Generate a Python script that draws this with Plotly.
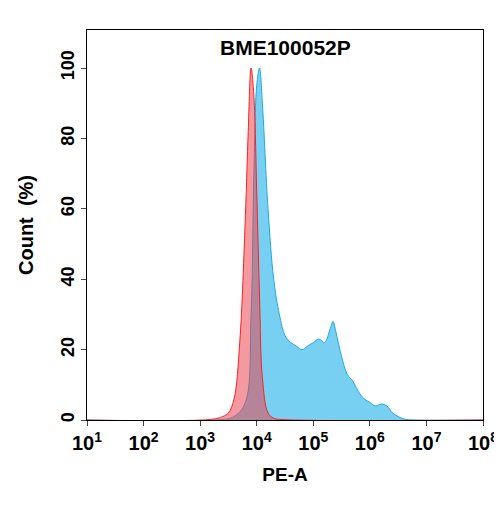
import plotly.graph_objects as go

blue_logx = [1,3.3,3.6,3.8,3.9,3.95,4.0,4.05,4.1,4.2,4.3,4.4,4.5,4.6,4.7,4.8,4.9,5.0,5.1,5.2,5.3,5.35,5.4,5.5,5.6,5.7,5.8,5.9,6.0,6.1,6.2,6.3,6.4,6.5,6.6,6.8,8]
blue_y = [0,0,1,5,30,70,95,100,90,60,40,30,24,22,21,20,21,22,23,22,26,28,25,18,13,11,8,6,5,4,4.5,4,2,1,0.3,0,0]
red_logx = [1,3.2,3.4,3.5,3.6,3.7,3.8,3.85,3.9,3.95,4.0,4.05,4.1,4.2,4.3,4.5,8]
red_y = [0,0.2,1,2,6,22,58,82,100,92,65,35,12,2,0.5,0.1,0]
xticks = [1,2,3,4,5,6,7,8]
yticks = [0,20,40,60,80,100]

fig = go.Figure()
fig.add_trace(go.Scatter(x=[10**v for v in blue_logx], y=blue_y, mode="lines", fill="tozeroy",
    line=dict(color="#1ca9e0", width=1, shape="spline"), fillcolor="rgba(95,200,240,0.85)"))
fig.add_trace(go.Scatter(x=[10**v for v in red_logx], y=red_y, mode="lines", fill="tozeroy",
    line=dict(color="#ff2020", width=1, shape="spline"), fillcolor="rgba(235,70,80,0.55)"))
fig.update_layout(width=502, height=505, showlegend=False, plot_bgcolor="white", paper_bgcolor="white",
    margin=dict(l=79, r=22, t=22, b=93),
    font=dict(family="Liberation Sans, Arial", color="black"),
    annotations=[dict(text="<b>BME100052P</b>", x=0.5, y=0.99, xref="paper", yref="paper",
                      xanchor="center", yanchor="top", showarrow=False, font=dict(size=21))])
fig.update_xaxes(type="log", range=[1,8], tickvals=[10**v for v in xticks],
    ticktext=[f"<b>10<sup>{v}</sup></b>" for v in xticks], tickfont=dict(size=20),
    showline=True, mirror=True, linecolor="black", linewidth=1, ticks="outside", ticklen=5,
    showgrid=False, title=dict(text="<b>PE-A</b>", font=dict(size=19), standoff=14))
fig.update_yaxes(range=[0,110.8], tickvals=yticks, ticktext=[f"<b>{v}</b>" for v in yticks],
    tickangle=-90, tickfont=dict(size=18), showline=True, mirror=True, linecolor="black", linewidth=1,
    ticks="outside", ticklen=5, showgrid=False, zeroline=False,
    title=dict(text="<b>Count  (%)</b>", font=dict(size=20), standoff=18))
fig.write_html("out.html")
